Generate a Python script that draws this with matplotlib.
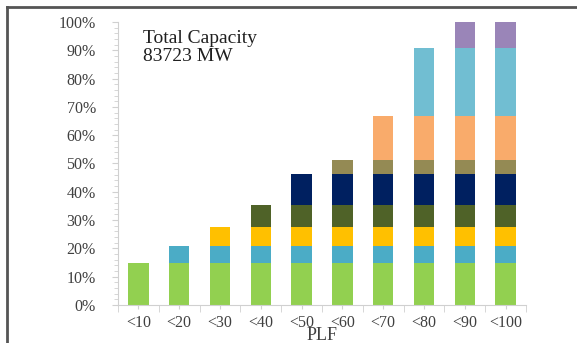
import numpy as np
import matplotlib.pyplot as plt
from matplotlib.lines import Line2D
from matplotlib.ticker import MultipleLocator, FuncFormatter

categories = ['<10', '<20', '<30', '<40', '<50', '<60', '<70', '<80', '<90', '<100']
# share of total capacity added by each PLF band (fraction)
band_share = [0.147, 0.062, 0.067, 0.077, 0.110, 0.049, 0.157, 0.238, 0.093]
# number of bands stacked in each cumulative bar
bands_in_bar = [1, 2, 3, 4, 5, 6, 7, 8, 9, 9]
band_colors = ['#92D050', '#4BACC6', '#FFC000', '#4F6228', '#002060',
               '#948A54', '#F9AB6B', '#71BED2', '#9A85B8']

plt.rcParams['font.family'] = ['Liberation Serif', 'DejaVu Serif']

fig = plt.figure(figsize=(5.77, 3.43), dpi=100)
ax = fig.add_axes([0.2045, 0.1108, 0.707, 0.8251])

x = np.arange(len(categories))
for b, share in enumerate(band_share):
    heights = np.array([share if n > b else 0 for n in bands_in_bar])
    bottoms = np.array([sum(band_share[:b]) if n > b else 0 for n in bands_in_bar])
    ax.bar(x, heights, bottom=bottoms, width=0.5, color=band_colors[b],
           edgecolor='none')

ax.set_xlim(-0.5, len(categories) - 0.5)
ax.set_ylim(0, 1.0)
ax.yaxis.set_major_locator(MultipleLocator(0.1))
ax.yaxis.set_minor_locator(MultipleLocator(0.02))
ax.yaxis.set_major_formatter(FuncFormatter(lambda v, p: f'{v*100:.0f}%'))

# category labels at centres, tick marks at the boundaries
ax.set_xticks(x)
ax.set_xticklabels(categories)
ax.set_xticks(np.arange(-0.5, len(categories)), minor=True)
ax.tick_params(axis='x', which='major', length=3, color='#d0d0d0',
               labelsize=11.5, labelcolor='#404040', pad=4)
ax.tick_params(axis='x', which='minor', length=5, color='#d0d0d0')
ax.tick_params(axis='y', which='major', length=4, color='#d0d0d0',
               labelsize=11.5, labelcolor='#404040', pad=12)
ax.tick_params(axis='y', which='minor', length=3, color='#d0d0d0')

for s in ['top', 'right']:
    ax.spines[s].set_visible(False)
ax.spines['left'].set_color('#d0d0d0')
ax.spines['bottom'].set_color('#d0d0d0')

ax.set_xlabel('PLF', fontsize=13, color='#404040', labelpad=-2.5)

ax.text(0.062, 0.97, 'Total Capacity\n83723 MW', transform=ax.transAxes,
        fontsize=14, va='top', ha='left', color='#202020', linespacing=1.05)

# frame around the figure (left and top edges visible)
fig.add_artist(Line2D([7 / 577, 7 / 577], [0, 1 - 7 / 343],
                      transform=fig.transFigure, color='#555555', lw=2))
fig.add_artist(Line2D([7 / 577, 1], [1 - 7 / 343, 1 - 7 / 343],
                      transform=fig.transFigure, color='#555555', lw=2))

fig.savefig('out.png', dpi=100)
